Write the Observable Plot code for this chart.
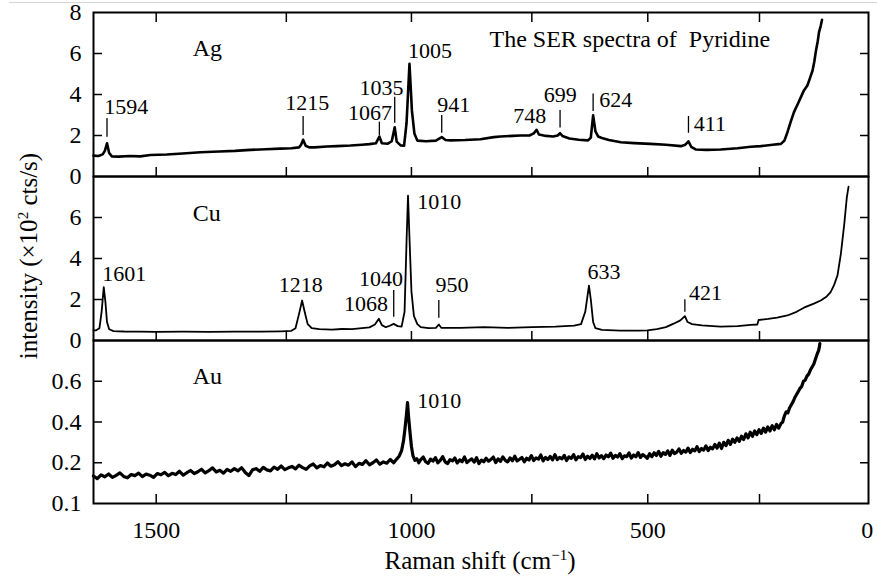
<!DOCTYPE html>
<html><head><meta charset="utf-8">
<script src="https://cdn.jsdelivr.net/npm/d3@7"></script>
<script src="https://cdn.jsdelivr.net/npm/@observablehq/plot@0.6"></script>
<style>
html,body{margin:0;padding:0;background:#fff;}
#wrap{position:relative;width:877px;height:577px;overflow:hidden;font-family:"Liberation Serif","Times New Roman",serif;color:#000;}
#wrap svg{position:absolute;left:0;overflow:visible;}
#wrap svg text{font-family:"Liberation Serif","Times New Roman",serif;}
.topline{position:absolute;top:2px;left:9px;right:0;height:1px;background:#d6d6d6;}
.ylab{position:absolute;left:28px;top:256px;transform:translate(-50%,-50%) rotate(-90deg);font-size:25px;white-space:nowrap;line-height:25px;}
.xlab{position:absolute;left:480px;top:548px;transform:translateX(-50%);font-size:25px;white-space:nowrap;line-height:25px;}
sup{font-size:15px;vertical-align:9px;line-height:0;}
</style></head><body><div id="wrap"><div class="topline"></div></div>
<script>
// x axis is linear in scattered wavelength (excitation line at LASER cm^-1)
const LASER = 14000;
const lam = v => 1e7 / (LASER - v);
const unlam = t => LASER - 1e7 / t;
const xDomainShift = [1617, -3];
const xTickMajor = [1500, 1000, 500, 0];
const xTickMinor = [1250, 750, 250];
const SERIF = "'Liberation Serif','Times New Roman',serif";

// spectra: [Raman shift (cm^-1), intensity (x10^2 cts/s)]
const agSpectrum = [[1617,1.02],[1608,1.0],[1600,1.08],[1596,1.25],[1592,1.62],[1588,1.15],[1583,0.98],[1570,0.97],[1550,1.0],[1530,0.98],[1511,1.05],[1480,1.07],[1450,1.12],[1416,1.18],[1380,1.22],[1350,1.25],[1320,1.3],[1290,1.33],[1262,1.36],[1240,1.38],[1225,1.42],[1221,1.55],[1217,1.79],[1212,1.5],[1205,1.42],[1195,1.42],[1170,1.46],[1150,1.48],[1123,1.51],[1100,1.55],[1085,1.58],[1072,1.62],[1065,1.95],[1060,1.62],[1048,1.6],[1040,1.72],[1034,2.4],[1030,1.7],[1022,1.52],[1015,1.5],[1010,2.6],[1004,5.5],[999,3.2],[994,2.1],[988,1.75],[970,1.72],[950,1.75],[938,1.92],[930,1.78],[920,1.76],[890,1.78],[858,1.82],[830,1.92],[816,1.95],[790,1.98],[774,2.0],[755,2.0],[746,2.1],[740,2.28],[735,2.05],[720,1.98],[705,1.95],[695,2.0],[690,2.11],[685,1.98],[670,1.85],[650,1.79],[630,1.76],[624,1.9],[619,2.98],[614,2.2],[608,1.95],[600,1.88],[585,1.78],[559,1.67],[530,1.63],[494,1.59],[460,1.55],[427,1.48],[417,1.55],[410,1.71],[404,1.45],[394,1.32],[370,1.3],[338,1.32],[300,1.38],[270,1.45],[247,1.48],[220,1.55],[201,1.59],[193,1.75],[186,2.16],[178,2.7],[171,3.14],[163,3.5],[155,3.87],[148,4.2],[140,4.44],[134,4.8],[128,5.17],[124,5.6],[120,6.15],[116,6.6],[113,7.04],[109,7.35],[106,7.64]];
const cuSpectrum = [[1617,0.49],[1612,0.5],[1606,0.6],[1602,1.4],[1598,2.6],[1595,1.9],[1592,0.9],[1588,0.55],[1580,0.46],[1560,0.44],[1530,0.43],[1500,0.42],[1450,0.43],[1400,0.42],[1350,0.43],[1300,0.43],[1260,0.45],[1240,0.47],[1232,0.6],[1225,1.3],[1219,1.95],[1214,1.4],[1208,0.8],[1200,0.6],[1185,0.55],[1160,0.53],[1140,0.56],[1120,0.55],[1100,0.6],[1085,0.64],[1074,0.78],[1066,1.06],[1060,0.75],[1052,0.65],[1044,0.72],[1036,0.81],[1028,0.7],[1020,0.68],[1014,1.4],[1010,4.8],[1007,7.07],[1004,5.0],[1000,2.4],[995,1.2],[988,0.8],[981,0.65],[965,0.6],[950,0.62],[944,0.78],[939,0.62],[900,0.62],[850,0.65],[800,0.62],[750,0.65],[700,0.68],[660,0.73],[645,0.8],[636,1.4],[628,2.68],[624,2.0],[619,0.9],[614,0.6],[600,0.52],[560,0.48],[520,0.48],[501,0.49],[480,0.55],[460,0.65],[443,0.82],[428,0.98],[418,1.19],[412,0.9],[402,0.8],[380,0.74],[338,0.68],[300,0.7],[270,0.76],[255,0.78],[252,1.0],[230,1.05],[210,1.12],[186,1.22],[165,1.4],[148,1.6],[125,1.8],[109,1.95],[95,2.15],[86,2.36],[78,2.7],[70,3.17],[62,4.23],[54,5.69],[48,6.99],[44,7.51]];
const auSpectrum = [[1617,.135],[1610,.122],[1603,.140],[1596,.131],[1589,.145],[1582,.128],[1575,.138],[1568,.150],[1561,.133],[1554,.126],[1547,.142],[1540,.137],[1533,.149],[1526,.132],[1519,.144],[1512,.139],[1505,.128],[1498,.147],[1491,.141],[1484,.153],[1477,.136],[1470,.148],[1463,.142],[1456,.158],[1449,.139],[1442,.151],[1435,.162],[1428,.147],[1421,.156],[1414,.168],[1407,.150],[1400,.161],[1393,.175],[1386,.155],[1379,.163],[1372,.149],[1365,.167],[1358,.158],[1351,.171],[1344,.160],[1337,.176],[1330,.152],[1323,.137],[1316,.165],[1309,.171],[1302,.158],[1295,.177],[1288,.165],[1281,.160],[1274,.178],[1267,.168],[1260,.184],[1253,.166],[1246,.175],[1239,.182],[1232,.170],[1225,.188],[1218,.176],[1211,.168],[1204,.185],[1197,.194],[1190,.175],[1183,.186],[1176,.180],[1169,.199],[1162,.183],[1155,.190],[1148,.205],[1141,.186],[1134,.195],[1127,.188],[1120,.204],[1113,.181],[1106,.197],[1099,.192],[1092,.210],[1085,.190],[1078,.200],[1071,.214],[1064,.193],[1057,.204],[1050,.198],[1043,.216],[1036,.200],[1030,.218],[1025,.232],[1020,.26],[1016,.31],[1013,.37],[1010,.44],[1008,.495],[1006,.43],[1003,.35],[1000,.28],[997,.235],[993,.212],[989,.22],[985,.200],[981,.215],[976,.228],[971,.205],[966,.197],[961,.218],[956,.208],[951,.225],[946,.200],[941,.212],[936,.230],[931,.204],[926,.196],[921,.215],[916,.209],[911,.223],[906,.199],[901,.214],[896,.205],[891,.228],[886,.201],[881,.211],[876,.219],[871,.203],[866,.225],[861,.196],[856,.213],[851,.205],[846,.222],[841,.208],[836,.216],[831,.228],[826,.201],[821,.219],[816,.207],[811,.229],[806,.212],[801,.204],[796,.224],[791,.210],[786,.232],[781,.209],[776,.217],[771,.226],[766,.205],[761,.222],[756,.213],[751,.235],[746,.211],[741,.224],[736,.218],[731,.238],[726,.209],[721,.226],[716,.216],[711,.231],[706,.214],[701,.240],[696,.215],[691,.226],[686,.219],[681,.236],[676,.211],[671,.229],[666,.222],[661,.240],[656,.214],[651,.230],[646,.225],[641,.243],[636,.216],[631,.232],[626,.221],[621,.237],[616,.219],[611,.244],[606,.224],[601,.235],[596,.220],[591,.238],[586,.229],[581,.247],[576,.222],[571,.236],[566,.228],[561,.245],[556,.220],[551,.234],[546,.230],[541,.248],[536,.223],[531,.238],[526,.229],[521,.250],[516,.226],[511,.240],[506,.232],[501,.222],[496,.244],[491,.230],[486,.249],[481,.235],[476,.256],[471,.232],[466,.250],[461,.241],[456,.258],[451,.236],[446,.262],[441,.245],[436,.252],[431,.268],[426,.246],[421,.260],[416,.252],[411,.272],[406,.250],[401,.266],[396,.258],[391,.279],[386,.255],[381,.270],[376,.262],[371,.283],[366,.260],[361,.276],[356,.268],[351,.290],[346,.272],[341,.296],[336,.270],[331,.300],[326,.284],[321,.310],[316,.290],[311,.316],[306,.300],[301,.322],[296,.305],[291,.330],[286,.314],[281,.342],[276,.322],[271,.350],[266,.330],[261,.356],[256,.338],[251,.362],[246,.344],[241,.370],[236,.350],[231,.376],[226,.356],[221,.382],[216,.362],[211,.388],[206,.370],[201,.392],[197,.40],[193,.43],[189,.45],[185,.445],[181,.47],[177,.485],[173,.50],[169,.52],[165,.535],[161,.55],[157,.565],[153,.575],[149,.60],[145,.605],[141,.625],[137,.635],[133,.655],[129,.67],[125,.685],[121,.71],[117,.735],[114,.75],[112,.77],[111,.785]];

// peak labels: text, label position (shift, intensity)
const agLabels = ["1594","1215","1067","1035","1005","941","748","699","624","411"];
const agLabelX = [1597,1252,1128,1105,1007,947,789,725,606,398];
const agLabelY = [3.06,3.22,2.77,4.0,5.77,3.17,2.6,3.62,3.41,2.2];
const agMarkX = [1592,1217,1065,1034,938,690,619,410];
const agMarkY1 = [1.92,2.0,2.0,2.6,2.11,2.36,3.17,2.11];
const agMarkY2 = [2.83,2.93,2.65,3.87,2.98,3.22,4.03,2.93];

const cuLabels = ["1601","1218","1068","1040","1010","950","633","421"];
const cuLabelX = [1601,1265,1136,1106,988,951,631,409];
const cuLabelY = [2.88,2.36,1.46,2.68,6.42,2.36,3.01,1.99];
const cuMarkX = [1036,944,418];
const cuMarkY1 = [1.14,1.09,1.38];
const cuMarkY2 = [2.44,1.95,1.99];

const auLabels = ["1010"];
const auLabelX = [988];
const auLabelY = [0.47];

const panelNames = ["Ag","Cu","Au"];
const panelNameX = [1431,1431,1431];
const panelNameY = [5.9,5.85,0.588];
const titleText = "The SER spectra of\u00a0 Pyridine";
const titleX = 839, titleY = 6.34;

const yLabelTicks = [[0,2,4,6,8],[0,2,4,6],[0,0.2,0.4,0.6]];
const yLabelText = [["0","2","4","6","8"],["0","2","4","6"],["0.1","0.2","0.4","0.6"]];
const yInnerTicks = [[2,4,6],[2,4,6],[0.2,0.4,0.6]];
const yDomains = [[0,8],[0,8],[0,0.8]];

const wrap = document.getElementById("wrap");
const tickX = [...xTickMajor.filter(v => v !== 0), ...xTickMinor].map(lam);
const idx = a => a.map((_, i) => i);

function panel(k, {top, height, marginTop, marginBottom, spectrum, lineWidth, labels, labelX, labelY, markX, markY1, markY2, extra = []}) {
  const svg = Plot.plot({
    width: 877, height, marginLeft: 93, marginRight: 9, marginTop, marginBottom,
    style: {overflow: "visible", background: "transparent", fontFamily: SERIF, fontSize: "22px", color: "#000"},
    x: {domain: xDomainShift.map(lam)},
    y: {domain: yDomains[k]},
    marks: [
      Plot.line(spectrum, {x: d => lam(d[0]), y: d => d[1], stroke: "#000", strokeWidth: lineWidth, strokeLinejoin: "round"}),
      markX ? Plot.ruleX(idx(markX), {x: i => lam(markX[i]), y1: i => markY1[i], y2: i => markY2[i], stroke: "#000", strokeWidth: 1.3}) : null,
      Plot.text(idx(labels), {x: i => lam(labelX[i]), y: i => labelY[i], text: i => labels[i], textAnchor: "start", lineAnchor: "bottom", fontSize: 22, fontFamily: SERIF, fill: "#000"}),
      Plot.text([panelNames[k]], {x: lam(panelNameX[k]), y: panelNameY[k], text: d => d, textAnchor: "start", lineAnchor: "bottom", fontSize: 24, fontFamily: SERIF, fill: "#000"}),
      ...extra,
      Plot.axisY({anchor: "left", ticks: yInnerTicks[k], tickSize: 9, dx: 9, fill: "none", stroke: "#000", strokeWidth: 1.5, label: null}),
      Plot.axisY({anchor: "right", ticks: yInnerTicks[k], tickSize: 9, dx: -9, fill: "none", stroke: "#000", strokeWidth: 1.5, label: null}),
      Plot.axisY({anchor: "left", ticks: yLabelTicks[k], tickSize: 0, tickPadding: 12, tickFormat: d => yLabelText[k][yLabelTicks[k].indexOf(d)], fontSize: 24, fontFamily: SERIF, fill: "#000", label: null}),
      Plot.axisX({anchor: "bottom", ticks: tickX, tickSize: 9, dy: -9, fill: "none", stroke: "#000", strokeWidth: 1.5, label: null}),
      k === 0 ? Plot.axisX({anchor: "top", ticks: tickX, tickSize: 9, dy: 9, fill: "none", stroke: "#000", strokeWidth: 1.5, label: null}) : null,
      k === 2 ? Plot.axisX({anchor: "bottom", ticks: xTickMajor.map(lam), tickSize: 0, tickPadding: 17, tickFormat: t => String(Math.abs(Math.round(unlam(t)))), fontSize: 24, fontFamily: SERIF, fill: "#000", label: null}) : null,
      Plot.frame({stroke: "#000", strokeWidth: 2})
    ]
  });
  svg.style.top = top + "px";
  wrap.appendChild(svg);
}

panel(0, {top: 0, height: 176, marginTop: 12, marginBottom: 0, spectrum: agSpectrum, lineWidth: 2.6,
  labels: agLabels, labelX: agLabelX, labelY: agLabelY, markX: agMarkX, markY1: agMarkY1, markY2: agMarkY2,
  extra: [Plot.text([titleText], {x: lam(titleX), y: titleY, text: d => d, textAnchor: "start", lineAnchor: "bottom", fontSize: 24, fontFamily: SERIF, fill: "#000"})]});
panel(1, {top: 176, height: 164, marginTop: 0, marginBottom: 0, spectrum: cuSpectrum, lineWidth: 1.8,
  labels: cuLabels, labelX: cuLabelX, labelY: cuLabelY, markX: cuMarkX, markY1: cuMarkY1, markY2: cuMarkY2});
panel(2, {top: 340, height: 237, marginTop: 0, marginBottom: 74, spectrum: auSpectrum, lineWidth: 3.2,
  labels: auLabels, labelX: auLabelX, labelY: auLabelY});

const yl = document.createElement("div");
yl.className = "ylab";
yl.innerHTML = "intensity (\u00d710<sup>2</sup> cts/s)";
wrap.appendChild(yl);
const xl = document.createElement("div");
xl.className = "xlab";
xl.innerHTML = "Raman shift (cm<sup>\u22121</sup>)";
wrap.appendChild(xl);
</script>
</body></html>
